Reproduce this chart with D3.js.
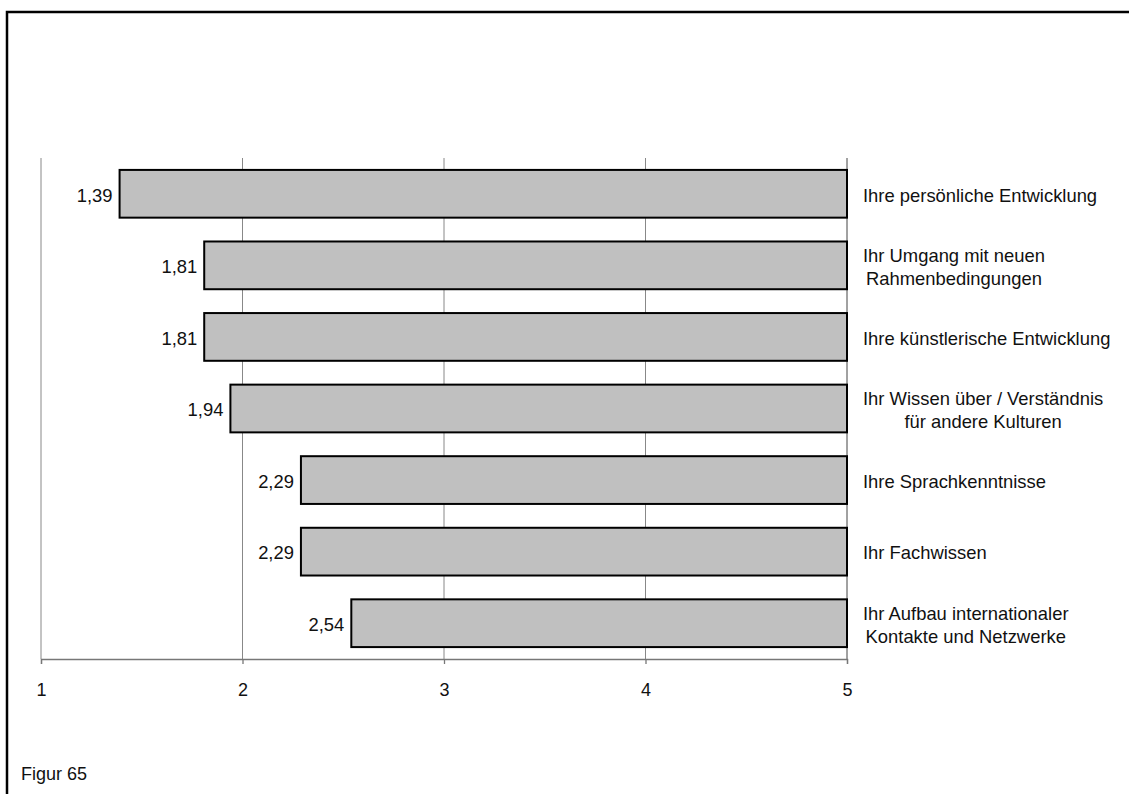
<!DOCTYPE html>
<html>
<head>
<meta charset="utf-8">
<script src="https://cdn.jsdelivr.net/npm/d3@7"></script>
<style>
  html, body { margin: 0; padding: 0; background: #fff; }
  svg { display: block; }
  text { font-family: "Liberation Sans", Arial, sans-serif; fill: #111; }
</style>
</head>
<body>
<svg id="chart" width="1129" height="794"></svg>
<script>
const categories = [
  "Ihre persönliche Entwicklung",
  "Ihr Umgang mit neuen\nRahmenbedingungen",
  "Ihre künstlerische Entwicklung",
  "Ihr Wissen über / Verständnis\nfür andere Kulturen",
  "Ihre Sprachkenntnisse",
  "Ihr Fachwissen",
  "Ihr Aufbau internationaler\nKontakte und Netzwerke"
];
const values = [1.39, 1.81, 1.81, 1.94, 2.29, 2.29, 2.54];
const tickValues = [1, 2, 3, 4, 5];
const tickLabels = ["1", "2", "3", "4", "5"];
const figureCaption = "Figur 65";

const svg = d3.select("#chart");
const fontSize = 18.4;

// Outer frame (extends beyond right and bottom edges)
svg.append("rect")
  .attr("x", 7).attr("y", 12)
  .attr("width", 1300).attr("height", 1000)
  .attr("fill", "none").attr("stroke", "#000").attr("stroke-width", 2.5);

const x = d3.scaleLinear().domain([1, 5]).range([41, 847]);
const y = d3.scaleBand().domain(categories).range([158, 659])
  .paddingInner(0.333).paddingOuter(0.1665);

// Gridlines
svg.append("g").selectAll("line").data(tickValues).join("line")
  .attr("x1", d => x(d)).attr("x2", d => x(d))
  .attr("y1", 158).attr("y2", 659)
  .attr("stroke", d => d === 5 ? "#444" : "#888").attr("stroke-width", 1);

// Axis
const axis = d3.axisBottom(x).tickValues(tickValues)
  .tickFormat((d, i) => tickLabels[i]).tickSize(5).tickPadding(19);
const gAxis = svg.append("g").attr("transform", "translate(0,659)").call(axis);
gAxis.select(".domain").attr("stroke", "#777").attr("stroke-width", 1.3);
gAxis.selectAll(".tick line").attr("stroke", "#777").attr("stroke-width", 1.3);
gAxis.selectAll(".tick text")
  .style("font-family", '"Liberation Sans", Arial, sans-serif')
  .style("font-size", "18px").attr("fill", "#111");

// Bars
svg.append("g").selectAll("rect").data(values).join("rect")
  .attr("x", d => x(d))
  .attr("y", (d, i) => y(categories[i]))
  .attr("width", d => x(5) - x(d))
  .attr("height", y.bandwidth())
  .attr("fill", "#c0c0c0").attr("stroke", "#000").attr("stroke-width", 2);

// Value labels
const fmt = v => v.toFixed(2).replace(".", ",");
svg.append("g").selectAll("text").data(values).join("text")
  .attr("x", d => x(d) - 7)
  .attr("y", (d, i) => y(categories[i]) + y.bandwidth() / 2 + 7.8)
  .attr("text-anchor", "end")
  .style("font-size", fontSize + "px")
  .text(d => fmt(d));

// Category labels on the right (centered multi-line blocks)
const labelLeft = 863;
const lineGap = 23;
categories.forEach((c, i) => {
  const lines = c.split("\n");
  const cy = y(c) + y.bandwidth() / 2 + 7.8;
  const g = svg.append("g");
  const texts = lines.map((ln, j) => g.append("text")
    .attr("y", cy + (j - (lines.length - 1) / 2) * lineGap)
    .style("font-size", fontSize + "px")
    .text(ln));
  const maxW = d3.max(texts, t => t.node().getComputedTextLength());
  texts.forEach(t => t.attr("x", labelLeft + maxW / 2).attr("text-anchor", "middle"));
});

// Caption
svg.append("text")
  .attr("x", 21).attr("y", 780)
  .style("font-size", "18px")
  .text(figureCaption);
</script>
</body>
</html>
